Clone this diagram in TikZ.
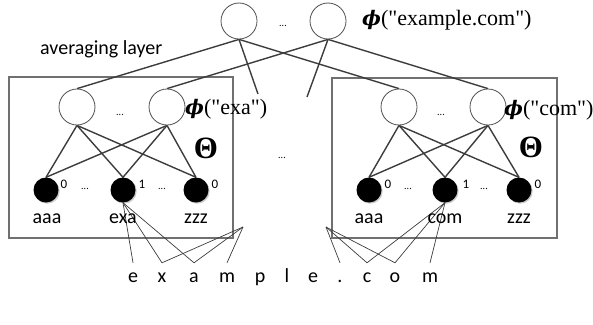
\documentclass[tikz,border=0pt]{standalone}
\usepackage{fontspec}
\setmainfont{Liberation Serif}
\newfontfamily\phifont{Liberation Serif}
\newfontfamily\greekfont{DejaVu Serif}
\newfontfamily\calfont{Carlito}
\usetikzlibrary{shadows}
\pgfdeclarelayer{back}
\pgfsetlayers{back,main}

\definecolor{linegray}{HTML}{3C3C3C}
\definecolor{boxgray}{HTML}{707070}
\definecolor{ringgray}{HTML}{505050}

\newcommand{\embsym}{{\greekfont\bfseries\itshape\fontsize{20}{20}\selectfont ϕ}}

\begin{document}
\begin{tikzpicture}[x=1pt,y=-1pt,
  conn/.style={draw=linegray, line width=1.4pt},
  charconn/.style={draw=linegray, line width=0.7pt},
  hidden/.style={circle, draw=ringgray, line width=0.8pt, fill=white,
    minimum size=36pt, inner sep=0pt},
  unit/.style={circle, fill=black, minimum size=25pt, inner sep=0pt,
    drop shadow={shadow xshift=1.2pt, shadow yshift=-1.2pt, opacity=0.35, fill=black!60}},
  frame/.style={draw=boxgray, line width=1.1pt},
  sanslabel/.style={font=\calfont\fontsize{20}{20}\selectfont, inner sep=0pt},
  gram/.style={sanslabel, anchor=base},
  onehot/.style={font=\calfont\fontsize{13}{13}\selectfont, inner sep=0pt},
  gap/.style={font=\calfont\fontsize{10}{10}\selectfont, inner sep=0pt},
  phi/.style={font=\phifont\fontsize{22}{22}\selectfont, inner sep=0pt, anchor=base west},
  theta/.style={font=\phifont\fontsize{31}{31}\selectfont\bfseries, inner sep=0pt},
  letter/.style={font=\calfont\fontsize{20}{20}\selectfont, anchor=base,
    inner sep=1pt, text height=18pt, text depth=0pt},
]
\useasboundingbox (0,0) rectangle (593,324);

% n-gram blocks
\begin{pgfonlayer}{back}
\draw[frame] (9,77) rectangle (233,238);
\draw[frame] (332,78) rectangle (557,238);
\end{pgfonlayer}

% averaging layer
\node[hidden] (t1) at (239,21) {};
\node[hidden] (t2) at (328,21) {};
\node[gap] (tdots) at (283,26) {...};
\node[phi] (tphi) at (362,25) {\embsym("example.com")};
\node[sanslabel, anchor=base west] (avg) at (40,54) {averaging layer};

% left block
\node[hidden] (l1) at (77,107) {};
\node[hidden] (l2) at (167,107) {};
\node[gap] (ldots) at (120,115) {...};
\node[phi] (lphi) at (185,114) {\embsym("exa")};
\node[theta] (lth) at (206,148) {Θ};
\node[unit] (la) at (46,190) {};
\node[unit] (lb) at (123,190) {};
\node[unit] (lc) at (196,190) {};
\node[onehot] (la0) at (64,184) {0};
\node[onehot] (lb1) at (142,184) {1};
\node[onehot] (lc0) at (215,184) {0};
\node[gap] (ld1) at (85,189) {...};
\node[gap] (ld2) at (162,189) {...};
\node[gram] (laaa) at (47,223) {aaa};
\node[gram] (lexa) at (123,223) {exa};
\node[gram] (lzzz) at (196,223) {zzz};

% right block
\node[hidden] (r1) at (399,107) {};
\node[hidden] (r2) at (488,107) {};
\node[gap] (rdots) at (441,115) {...};
\node[phi] (rphi) at (504,115) {\embsym("com")};
\node[theta] (rth) at (531,147) {Θ};
\node[unit] (ra) at (369,190) {};
\node[unit] (rb) at (445,190) {};
\node[unit] (rc) at (519,190) {};
\node[onehot] (ra0) at (388,184) {0};
\node[onehot] (rb1) at (466,184) {1};
\node[onehot] (rc0) at (538,184) {0};
\node[gap] (rd1) at (408,189) {...};
\node[gap] (rd2) at (484,189) {...};
\node[gram] (raaa) at (369,223) {aaa};
\node[gram] (rcom) at (445,223) {com};
\node[gram] (rzzz) at (519,223) {zzz};

\node[gap] (mdots) at (282,158) {...};

% input characters
\node[letter] (c1) at (133,282) {e};
\node[letter] (c2) at (162,282) {x};
\node[letter] (c3) at (194,282) {a};
\node[letter] (c4) at (227,282) {m};
\node[letter] (c5) at (260,282) {p};
\node[letter] (c6) at (287,282) {l};
\node[letter] (c7) at (313,282) {e};
\node[letter] (c8) at (340,282) {.};
\node[letter] (c9) at (367,282) {c};
\node[letter] (c10) at (395,282) {o};
\node[letter] (c11) at (430,282) {m};

% loose ends of the omitted trigrams
\coordinate (f1) at (258,94);
\coordinate (f2) at (307,97);
\coordinate (g1) at (243,227);
\coordinate (g2) at (326,227);

\begin{pgfonlayer}{back}
% averaging connections
\draw[conn] (t1.south) -- (l1.north);
\draw[conn] (t1.south) -- (r1.north);
\draw[conn] (t1.south) -- (f1);
\draw[conn] (t2.south) -- (l2.north);
\draw[conn] (t2.south) -- (r2.north);
\draw[conn] (t2.south) -- (f2);

% embedding weights
\foreach \h in {l1,l2}
  \foreach \u in {la,lb,lc}
    \draw[conn] (\h.south) -- (\u.north);
\foreach \h in {r1,r2}
  \foreach \u in {ra,rb,rc}
    \draw[conn] (\h.south) -- (\u.north);

% characters feeding the trigrams
\foreach \c in {c1,c2,c3}
  \draw[charconn] (lb.south) -- (\c.north);
\foreach \c in {c2,c3,c4}
  \draw[charconn] (g1) -- (\c.north);
\foreach \c in {c8,c9,c10}
  \draw[charconn] (g2) -- (\c.north);
\foreach \c in {c9,c10,c11}
  \draw[charconn] (rb.south) -- (\c.north);
\end{pgfonlayer}
\end{tikzpicture}
\end{document}
